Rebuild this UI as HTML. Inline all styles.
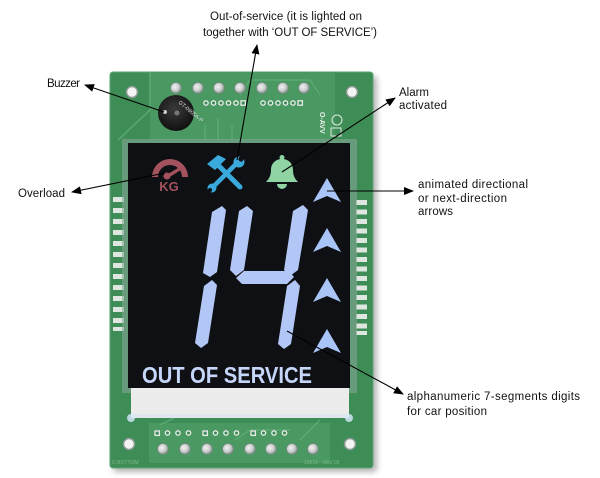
<!DOCTYPE html>
<html><head><meta charset="utf-8"><style>
html,body{margin:0;padding:0;background:#fff;width:600px;height:478px;overflow:hidden}
svg{display:block}
.lb{font-family:"Liberation Sans",Arial,sans-serif;font-size:11.5px;fill:#111}
</style></head><body>
<svg width="600" height="478" viewBox="0 0 600 478" xmlns="http://www.w3.org/2000/svg">
<defs>
<filter id="sh" x="-10%" y="-10%" width="120%" height="120%"><feGaussianBlur stdDeviation="3"/></filter>
<marker id="ah" markerWidth="10" markerHeight="8" refX="9" refY="4" orient="auto" markerUnits="userSpaceOnUse">
<path d="M0,0 L10,4 L0,8 Z" fill="#000"/></marker>
<radialGradient id="bz" cx="45%" cy="40%" r="60%"><stop offset="0" stop-color="#3a3a3a"/><stop offset="1" stop-color="#111"/></radialGradient>
<radialGradient id="pad" cx="40%" cy="40%" r="60%"><stop offset="0" stop-color="#f2f2f2"/><stop offset="0.6" stop-color="#c9cdcb"/><stop offset="1" stop-color="#7f918a"/></radialGradient>
</defs>

<rect x="113" y="76" width="264" height="396" rx="4" fill="#777" opacity="0.55" filter="url(#sh)"/>
<rect x="110" y="72" width="263" height="396" rx="3" fill="#3e8d57"/>
<rect x="110" y="72" width="263" height="396" rx="3" fill="none" stroke="#5fa776" stroke-width="1"/>
<rect x="150" y="72" width="185" height="68" fill="#4a9862"/>
<rect x="149" y="423" width="181" height="40" fill="#4a9862"/>
<g stroke="#5aa872" stroke-width="1.5" fill="none">
<path d="M118,140 L150,110 L150,72"/>
<path d="M205,125 L205,140"/><path d="M218,118 L218,140"/><path d="M232,125 L232,140"/>
<path d="M240,95 L250,80 L310,80 L320,95"/>
<path d="M160,425 L190,410"/><path d="M300,440 L320,420"/>
<path d="M235,440 L250,430 L290,430"/>
</g>
<g fill="#f4f4f4" stroke="#8a9a92" stroke-width="1.5">
<circle cx="132" cy="92" r="5.5"/><circle cx="352" cy="92" r="5.5"/>
<circle cx="129" cy="444" r="5.5"/><circle cx="350" cy="444" r="5.5"/>
</g>
<g fill="url(#pad)" stroke="#6f8a7a" stroke-width="0.8">
<circle cx="176" cy="88" r="5.5"/><circle cx="198" cy="88" r="5.5"/><circle cx="219" cy="88" r="5.5"/>
<circle cx="240" cy="88" r="5.5"/><circle cx="262" cy="88" r="5.5"/><circle cx="283" cy="88" r="5.5"/><circle cx="304" cy="88" r="5.5"/>
</g>
<g fill="#3e8d57" stroke="#e8ece8" stroke-width="1.3">
<circle cx="206" cy="103" r="2.2"/><circle cx="213.5" cy="103" r="2.2"/><circle cx="221" cy="103" r="2.2"/>
<circle cx="228.5" cy="103" r="2.2"/><circle cx="236" cy="103" r="2.2"/><rect x="241" y="100.8" width="4.4" height="4.4"/>
<circle cx="263" cy="103" r="2.2"/><circle cx="270.5" cy="103" r="2.2"/><circle cx="278" cy="103" r="2.2"/>
<circle cx="285.5" cy="103" r="2.2"/><circle cx="293" cy="103" r="2.2"/><rect x="298" y="100.8" width="4.4" height="4.4"/>
</g>
<circle cx="176" cy="113" r="18" fill="url(#bz)"/>
<circle cx="165" cy="112" r="2" fill="#ccc"/>
<circle cx="177" cy="113" r="2.5" fill="#777"/>
<text x="178" y="103" font-family="Liberation Sans,sans-serif" font-size="5.5" fill="#ddd" transform="rotate(40 178 103)">GT-0905A-P</text>
<text x="320" y="112" font-family="Liberation Sans,sans-serif" font-size="7" font-weight="bold" fill="#e8f0e8" transform="rotate(90 320 112)">O-AVV</text>
<circle cx="337" cy="120" r="5" fill="none" stroke="#e0e8e0" stroke-width="1"/>
<rect x="331" y="128" width="10" height="8" fill="none" stroke="#e0e8e0" stroke-width="1"/>

<g fill="#dfe6df">
<rect x="113" y="197" width="11" height="5"/><rect x="113" y="208" width="11" height="5"/><rect x="113" y="219" width="11" height="5"/>
<rect x="113" y="230" width="11" height="5"/><rect x="113" y="241" width="11" height="5"/><rect x="113" y="252" width="11" height="5"/>
<rect x="113" y="263" width="11" height="5"/><rect x="113" y="274" width="11" height="5"/><rect x="113" y="285" width="11" height="5"/>
<rect x="113" y="296" width="11" height="5"/><rect x="113" y="307" width="11" height="5"/><rect x="113" y="318" width="11" height="5"/>
<rect x="113" y="327" width="11" height="4"/>
<rect x="356" y="200" width="11" height="5"/><rect x="356" y="209.5" width="11" height="5"/><rect x="356" y="219" width="11" height="5"/>
<rect x="356" y="228.5" width="11" height="5"/><rect x="356" y="238" width="11" height="5"/><rect x="356" y="247.5" width="11" height="5"/>
<rect x="356" y="257" width="11" height="5"/><rect x="356" y="266.5" width="11" height="5"/><rect x="356" y="276" width="11" height="5"/>
<rect x="356" y="285.5" width="11" height="5"/><rect x="356" y="295" width="11" height="5"/><rect x="356" y="304.5" width="11" height="5"/>
<rect x="356" y="314" width="11" height="5"/><rect x="356" y="323.5" width="11" height="5"/><rect x="356" y="331" width="11" height="4"/>
</g>
<rect x="122" y="139" width="235" height="254" fill="#86a592" opacity="0.6"/>
<rect x="131" y="386" width="218" height="32" fill="#ececec"/>
<rect x="131" y="414" width="218" height="4" fill="#dfe6f0"/>
<circle cx="131" cy="418" r="4" fill="#d8ecff" opacity="0.8"/>
<circle cx="349" cy="418" r="4" fill="#d8ecff" opacity="0.8"/>
<rect x="128" y="143" width="222" height="245" fill="#0e1013"/>

<g fill="#3e8d57" stroke="#e8ece8" stroke-width="1.3">
<rect x="155" y="431" width="4.4" height="4.4"/><circle cx="167.5" cy="433" r="2.2"/><circle cx="178" cy="433" r="2.2"/><circle cx="188.5" cy="433" r="2.2"/>
<rect x="203" y="431" width="4.4" height="4.4"/><circle cx="215.5" cy="433" r="2.2"/><circle cx="226" cy="433" r="2.2"/><circle cx="236.5" cy="433" r="2.2"/>
<rect x="251" y="431" width="4.4" height="4.4"/><circle cx="263.5" cy="433" r="2.2"/><circle cx="274" cy="433" r="2.2"/><circle cx="284.5" cy="433" r="2.2"/>
</g>
<g fill="url(#pad)" stroke="#6f8a7a" stroke-width="0.8">
<circle cx="163" cy="449" r="5.5"/><circle cx="185" cy="449" r="5.5"/><circle cx="207" cy="449" r="5.5"/><circle cx="228" cy="449" r="5.5"/>
<circle cx="250" cy="449" r="5.5"/><circle cx="271" cy="449" r="5.5"/><circle cx="292" cy="449" r="5.5"/><circle cx="313" cy="449" r="5.5"/>
</g>
<text x="112" y="464" font-family="Liberation Sans,sans-serif" font-size="5" fill="#7fb890">C-BOTTOM</text>
<text x="304" y="464" font-family="Liberation Sans,sans-serif" font-size="5" fill="#7fb890">10610 - REV 02</text>

<g fill="#a3525e">
<path d="M152,177 A18,18 0 0 1 188,177 L182,177 A12,12 0 0 0 158,177 Z"/>
<path d="M163,177 L183,165 L184,168 L168,178 Z"/>
<circle cx="167" cy="176" r="3.5"/>
<text x="169" y="191" text-anchor="middle" font-family="Liberation Sans,sans-serif" font-weight="bold" font-size="13">KG</text>
</g>
<g stroke="#3aa9dc" stroke-linecap="round" fill="none">
<line x1="216" y1="163" x2="240" y2="187" stroke-width="5"/>
<line x1="237" y1="163" x2="213" y2="187" stroke-width="4.5"/>
</g>
<g fill="#3aa9dc">
<path d="M207,164 L218,155 L226,159 L215,170 Z"/>
<circle cx="239" cy="162" r="5.5"/>
<circle cx="212" cy="188" r="4.5"/>
</g>
<circle cx="241" cy="159" r="2.6" fill="#0e1013"/>
<circle cx="210" cy="190" r="2" fill="#0e1013"/>
<g fill="#8fd4a2">
<circle cx="282" cy="157.5" r="2.5"/>
<path d="M266,182 C270,178 271,174 271,170 C271,163 276,159 282,159 C288,159 293,163 293,170 C293,174 294,178 298,182 Z"/>
<path d="M277,184 L287,184 A5,5 0 0 1 277,184 Z"/>
</g>
<g fill="#a9c5f8">
<path d="M327,178 L341,202 L327,196 L313,202 Z"/>
<path d="M327,228 L341,252 L327,246 L313,252 Z"/>
<path d="M327,278 L341,302 L327,296 L313,302 Z"/>
<path d="M327,329 L341,353 L327,347 L313,353 Z"/>
</g>
<g fill="#b3c7f7">
<path d="M222,206 L226,210 L217,272 L210,277 L203,273 L212,212 Z"/>
<path d="M212,280 L217,285 L208,343 L201,348 L195,343 L204,286 Z"/>
<path d="M247,206 L253,211 L244,270 L236,276 L230,270 L239,211 Z"/>
<path d="M303,205 L308,210 L298,270 L290,276 L284,270 L293,211 Z"/>
<path d="M236,278 L244,271 L289,271 L294,277 L287,284 L242,284 Z"/>
<path d="M295,280 L300,286 L291,344 L284,349 L278,344 L287,286 Z"/>
</g>
<text x="142" y="383" textLength="170" lengthAdjust="spacingAndGlyphs" font-family="Liberation Sans,sans-serif" font-weight="bold" font-size="23" fill="#c6d6fb">OUT OF SERVICE</text>

<g stroke="#000" stroke-width="1.1" fill="none" marker-end="url(#ah)">
<line x1="164" y1="112" x2="85" y2="85"/>
<line x1="237" y1="160" x2="257" y2="45"/>
<line x1="282" y1="172" x2="395" y2="98"/>
<line x1="165" y1="173" x2="72" y2="192"/>
<line x1="327" y1="191" x2="413" y2="191"/>
<line x1="287" y1="331" x2="403" y2="394"/>
</g>

<text class="lb" x="210" y="20" textLength="152">Out-of-service (it is lighted on</text>
<text class="lb" x="203" y="36" textLength="174">together with ‘OUT OF SERVICE’)</text>
<text class="lb" x="47" y="87" textLength="33">Buzzer</text>
<text class="lb" x="399" y="96" textLength="30">Alarm</text>
<text class="lb" x="399" y="109" textLength="48">activated</text>
<text class="lb" x="18" y="197" textLength="47">Overload</text>
<text class="lb" x="418" y="188" textLength="110">animated directional</text>
<text class="lb" x="418" y="202" textLength="89">or next-direction</text>
<text class="lb" x="418" y="215" textLength="35">arrows</text>
<text class="lb" x="407" y="400" textLength="173">alphanumeric 7-segments digits</text>
<text class="lb" x="407" y="415" textLength="80">for car position</text>
</svg>
</body></html>
